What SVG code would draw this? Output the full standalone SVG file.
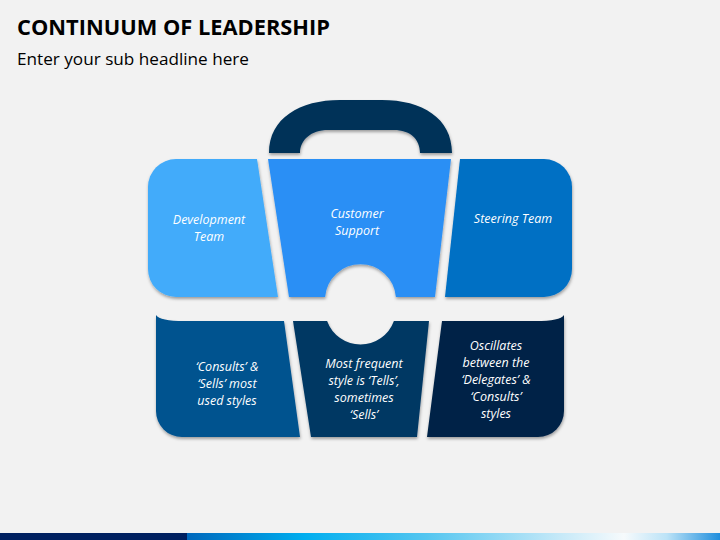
<svg xmlns="http://www.w3.org/2000/svg" width="720" height="540" viewBox="0 0 720 540">
<defs>
<filter id="sh" x="-10%" y="-10%" width="120%" height="130%">
<feDropShadow dx="0.5" dy="2" stdDeviation="1.6" flood-color="#000" flood-opacity="0.35"/>
</filter>
<linearGradient id="bar" x1="187" y1="0" x2="720" y2="0" gradientUnits="userSpaceOnUse">
<stop offset="0" stop-color="#0068BC"/>
<stop offset="0.22" stop-color="#00AEEF"/>
<stop offset="0.45" stop-color="#55C6F0"/>
<stop offset="0.7" stop-color="#C6E9F8"/>
<stop offset="0.82" stop-color="#F6FAFC"/>
<stop offset="0.9" stop-color="#BCE3F7"/>
<stop offset="1" stop-color="#1F8EDD"/>
</linearGradient>
</defs>
<style>
.t{font-family:"Open Sans","Liberation Sans",sans-serif;font-style:italic;font-size:12.5px;fill:#FFFFFF;text-anchor:middle}
.p{filter:url(#sh)}
</style>
<rect x="0" y="0" width="720" height="540" fill="#F2F2F2"/>
<text x="17" y="35" font-family="Open Sans, Liberation Sans, sans-serif" font-weight="700" font-size="20.5" fill="#000" textLength="313" lengthAdjust="spacingAndGlyphs">CONTINUUM OF LEADERSHIP</text>
<text x="17" y="65" font-family="Open Sans, Liberation Sans, sans-serif" font-size="16.5" fill="#000" textLength="232" lengthAdjust="spacingAndGlyphs">Enter your sub headline here</text>

<g id="handle">
<path class="p" fill="#003359" d="M 269 153 C 269 118, 300 100, 340 100 L 382 100 C 422 100, 452 118, 452 153 L 420 153 C 420 139, 410 130, 394 130 L 328 130 C 311 130, 300 140, 300 153 Z"/>
</g>

<g id="development-team">
<path class="p" fill="#42ABFA" d="M 176 159 L 257 159 L 278 297 L 176 297 A 28 28 0 0 1 148 269 L 148 187 A 28 28 0 0 1 176 159 Z"/>
<text class="t" x="209" y="224">Development</text>
<text class="t" x="209" y="241">Team</text>
</g>

<g id="customer-support">
<path class="p" fill="#2B8FF5" d="M 268 159 L 451 159 L 435 297 L 395.9 297 A 35.5 35.5 0 0 0 325.1 297 L 289 297 Z"/>
<text class="t" x="357" y="218">Customer</text>
<text class="t" x="357" y="235">Support</text>
</g>

<g id="steering-team">
<path class="p" fill="#0070C4" d="M 460 159 L 544 159 A 28 28 0 0 1 572 187 L 572 269 A 28 28 0 0 1 544 297 L 445 297 Z"/>
<text class="t" x="513" y="223">Steering Team</text>
</g>

<g id="consults-sells">
<path class="p" fill="#00528F" d="M 156 315 Q 160 321 184 321 L 284 321 L 300 437 L 182 437 A 26 26 0 0 1 156 411 Z"/>
<text class="t" x="227" y="371">‘Consults’ &amp;</text>
<text class="t" x="227" y="388">‘Sells’ most</text>
<text class="t" x="227" y="405">used styles</text>
</g>

<g id="most-frequent">
<path class="p" fill="#003864" d="M 293 321 L 327.1 321 A 35.5 35.5 0 0 0 393.9 321 L 429 321 L 417 437 L 311 437 Z"/>
<text class="t" x="364" y="368">Most frequent</text>
<text class="t" x="364" y="385">style is ‘Tells’,</text>
<text class="t" x="364" y="402">sometimes</text>
<text class="t" x="364" y="419">‘Sells’</text>
</g>

<g id="oscillates">
<path class="p" fill="#002447" d="M 442 321 L 536 321 Q 560 321 564 315 L 564 411 A 26 26 0 0 1 538 437 L 427 437 Z"/>
<text class="t" x="496" y="350">Oscillates</text>
<text class="t" x="496" y="367">between the</text>
<text class="t" x="496" y="384">‘Delegates’ &amp;</text>
<text class="t" x="496" y="401">‘Consults’</text>
<text class="t" x="496" y="418">styles</text>
</g>

<g id="connectors"></g>

<rect x="0" y="533" width="187" height="7" fill="#002060"/>
<rect x="187" y="533" width="533" height="7" fill="url(#bar)"/>
</svg>
